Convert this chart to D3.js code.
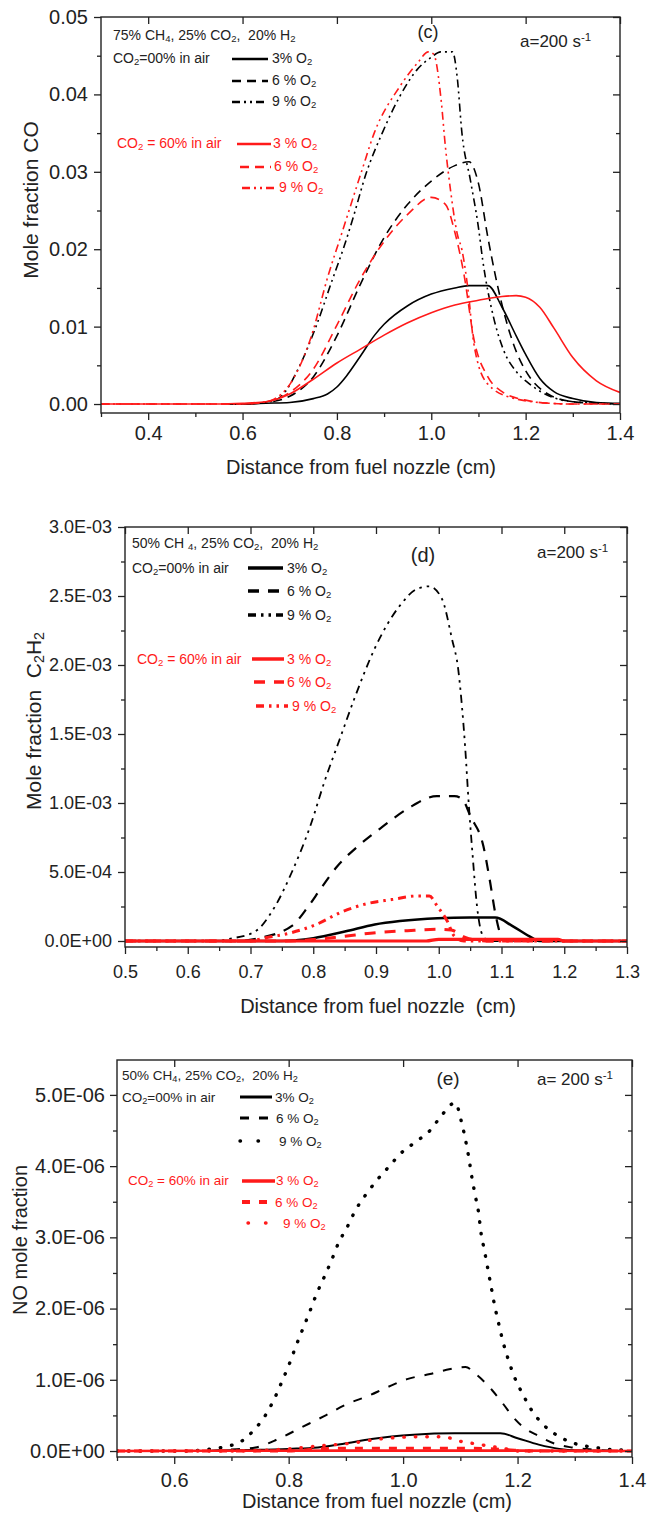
<!DOCTYPE html>
<html>
<head>
<meta charset="utf-8">
<script src="https://cdn.jsdelivr.net/npm/d3@7"></script>
<style>
  body { margin: 0; background: #fff; }
  svg { display: block; font-family: "Liberation Sans", Arial, sans-serif; }
  svg text { white-space: pre; }
</style>
</head>
<body>
<svg id="chart" width="647" height="1515"></svg>
<script>
// ---------- panel (c): CO mole fraction ----------
const coXTicks = [0.4, 0.6, 0.8, 1.0, 1.2, 1.4];
const coXMinor = [0.3, 0.5, 0.7, 0.9, 1.1, 1.3];
const coYTicks = [0, 0.01, 0.02, 0.03, 0.04, 0.05];
const coYMinor = [0.005, 0.015, 0.025, 0.035, 0.045];

const coAir3 = [[0.57,0],[0.6,0],[0.65,0.0001],[0.7,0.0002],[0.75,0.0007],[0.78,0.0013],[0.8,0.0022],[0.82,0.0036],[0.85,0.0062],[0.88,0.0089],[0.9,0.0103],[0.95,0.0127],[1.0,0.0142],[1.05,0.015],[1.08,0.0153],[1.12,0.0153],[1.15,0.0125],[1.18,0.0088],[1.2,0.0064],[1.23,0.0033],[1.26,0.0016],[1.3,0.0007],[1.35,0.0002],[1.4,0.0001]];
const coAir6 = [[0.57,0],[0.6,0],[0.65,0.0002],[0.7,0.001],[0.75,0.0035],[0.8,0.0088],[0.85,0.0155],[0.9,0.0215],[0.95,0.0258],[1.0,0.0288],[1.05,0.0308],[1.08,0.0313],[1.1,0.0285],[1.12,0.0215],[1.15,0.0128],[1.18,0.0068],[1.2,0.0043],[1.25,0.0012],[1.3,0.0003],[1.35,0.0001],[1.4,0]];
const coAir9 = [[0.57,0],[0.6,0],[0.65,0.0002],[0.68,0.0009],[0.72,0.0048],[0.755,0.0099],[0.79,0.016],[0.816,0.0205],[0.834,0.024],[0.862,0.0298],[0.896,0.035],[0.932,0.0396],[0.97,0.0432],[1.0,0.0448],[1.02,0.0455],[1.045,0.0455],[1.055,0.0422],[1.065,0.035],[1.083,0.0289],[1.1,0.0228],[1.109,0.0186],[1.132,0.0112],[1.153,0.007],[1.18,0.0042],[1.206,0.0027],[1.26,0.0008],[1.3,0.0003],[1.4,0]];
const coCo23 = [[0.3,0],[0.55,0],[0.6,0.0001],[0.65,0.0003],[0.7,0.0013],[0.75,0.0032],[0.8,0.0053],[0.85,0.0071],[0.9,0.0089],[0.95,0.0105],[1.0,0.0118],[1.05,0.0128],[1.1,0.0134],[1.15,0.0139],[1.18,0.014],[1.2,0.0138],[1.23,0.0125],[1.26,0.0098],[1.3,0.006],[1.35,0.003],[1.4,0.0015]];
const coCo26 = [[0.3,0],[0.6,0],[0.65,0.0003],[0.7,0.0015],[0.75,0.0045],[0.8,0.0102],[0.85,0.0162],[0.9,0.021],[0.95,0.0245],[1.0,0.0267],[1.03,0.0258],[1.05,0.0222],[1.07,0.0165],[1.09,0.0085],[1.12,0.0035],[1.15,0.0016],[1.2,0.0005],[1.25,0.0001],[1.3,0],[1.4,0]];
const coCo29 = [[0.3,0],[0.6,0],[0.64,0.0002],[0.662,0.0005],[0.702,0.0027],[0.745,0.0086],[0.781,0.0165],[0.81,0.022],[0.852,0.03],[0.879,0.035],[0.932,0.0409],[0.97,0.044],[0.994,0.0455],[1.005,0.0452],[1.021,0.0392],[1.03,0.0332],[1.04,0.028],[1.055,0.022],[1.065,0.0199],[1.078,0.0147],[1.09,0.0079],[1.118,0.0027],[1.171,0.0008],[1.25,0.0001],[1.3,0],[1.4,0]];

// ---------- panel (d): C2H2 mole fraction ----------
const c2XTicks = [0.5, 0.6, 0.7, 0.8, 0.9, 1.0, 1.1, 1.2, 1.3];
const c2XMinor = [0.55, 0.65, 0.75, 0.85, 0.95, 1.05, 1.15, 1.25];
const c2YTicks = [0, 0.0005, 0.001, 0.0015, 0.002, 0.0025, 0.003];
const c2YMinor = [0.00025, 0.00075, 0.00125, 0.00175, 0.00225, 0.00275];

const c2Air3 = [[0.5,0],[0.75,0],[0.8,0.00002],[0.852,0.00007],[0.898,0.00012],[0.938,0.000145],[0.998,0.000165],[1.05,0.00017],[1.09,0.00017],[1.117,0.00011],[1.144,0.000035],[1.16,0],[1.3,0]];
const c2Air6 = [[0.5,0],[0.68,0],[0.712,0.00002],[0.766,0.00011],[0.792,0.00025],[0.812,0.00038],[0.838,0.00054],[0.872,0.00069],[0.911,0.00083],[0.951,0.00096],[0.997,0.00105],[1.025,0.00105],[1.037,0.00103],[1.051,0.0009],[1.071,0.00069],[1.081,0.00045],[1.091,0.00018],[1.104,0],[1.3,0]];
const c2Air9 = [[0.5,0],[0.65,0],[0.66,0.00001],[0.706,0.000065],[0.739,0.00025],[0.766,0.0005],[0.795,0.00083],[0.819,0.00117],[0.842,0.00146],[0.865,0.00175],[0.898,0.00212],[0.938,0.00243],[0.965,0.00255],[0.985,0.00257],[1.005,0.00248],[1.021,0.00219],[1.031,0.00197],[1.037,0.0017],[1.042,0.00141],[1.048,0.00098],[1.054,0.00062],[1.061,0.00025],[1.07,0.00004],[1.08,0],[1.3,0]];
const c2Co23 = [[0.5,0],[0.98,0],[1.0,0.000012],[1.19,0.000012],[1.2,0],[1.3,0]];
const c2Co26 = [[0.5,0],[0.75,0],[0.8,0.00001],[0.85,0.000035],[0.9,0.00006],[0.95,0.000075],[1.0,0.000085],[1.02,0.00008],[1.04,0.00003],[1.06,0.000005],[1.08,0],[1.3,0]];
const c2Co29 = [[0.5,0],[0.7,0],[0.72,0.00002],[0.765,0.00006],[0.805,0.00012],[0.845,0.00021],[0.885,0.00027],[0.925,0.0003],[0.965,0.000326],[0.985,0.000326],[0.998,0.00025],[1.014,0.00014],[1.024,0.00004],[1.04,0],[1.3,0]];

// ---------- panel (e): NO mole fraction ----------
const noXTicks = [0.6, 0.8, 1.0, 1.2, 1.4];
const noXMinor = [0.5, 0.7, 0.9, 1.1, 1.3];
const noYTicks = [0, 1e-6, 2e-6, 3e-6, 4e-6, 5e-6];
const noYMinor = [0.5e-6, 1.5e-6, 2.5e-6, 3.5e-6, 4.5e-6];

const noAir3 = [[0.5,0],[0.65,0],[0.7,0.01e-6],[0.8,0.03e-6],[0.851,0.05e-6],[0.894,0.1e-6],[0.945,0.17e-6],[1.018,0.23e-6],[1.09,0.25e-6],[1.17,0.25e-6],[1.2,0.18e-6],[1.237,0.09e-6],[1.273,0.03e-6],[1.3,0.01e-6],[1.4,0]];
const noAir6 = [[0.5,0],[0.65,0],[0.698,0.02e-6],[0.742,0.05e-6],[0.782,0.17e-6],[0.822,0.33e-6],[0.862,0.49e-6],[0.902,0.66e-6],[0.938,0.77e-6],[0.971,0.89e-6],[1.007,1.01e-6],[1.047,1.08e-6],[1.076,1.14e-6],[1.109,1.18e-6],[1.127,1.08e-6],[1.156,0.85e-6],[1.175,0.66e-6],[1.193,0.47e-6],[1.211,0.33e-6],[1.237,0.21e-6],[1.266,0.1e-6],[1.295,0.05e-6],[1.331,0.02e-6],[1.382,0],[1.4,0]];
const noAir9 = [[0.5,0],[0.62,0],[0.654,0.02e-6],[0.689,0.06e-6],[0.718,0.14e-6],[0.74,0.3e-6],[0.76,0.51e-6],[0.776,0.75e-6],[0.789,0.99e-6],[0.802,1.24e-6],[0.813,1.48e-6],[0.825,1.72e-6],[0.836,1.94e-6],[0.849,2.21e-6],[0.862,2.44e-6],[0.875,2.68e-6],[0.887,2.92e-6],[0.902,3.14e-6],[0.916,3.37e-6],[0.934,3.59e-6],[0.953,3.79e-6],[0.975,3.99e-6],[0.996,4.18e-6],[1.022,4.34e-6],[1.047,4.5e-6],[1.069,4.73e-6],[1.091,4.89e-6],[1.102,4.62e-6],[1.109,4.37e-6],[1.115,4.11e-6],[1.12,3.85e-6],[1.126,3.59e-6],[1.132,3.34e-6],[1.136,3.07e-6],[1.142,2.82e-6],[1.148,2.56e-6],[1.154,2.3e-6],[1.16,2.04e-6],[1.167,1.79e-6],[1.175,1.52e-6],[1.184,1.28e-6],[1.195,1.03e-6],[1.209,0.8e-6],[1.224,0.58e-6],[1.245,0.37e-6],[1.271,0.21e-6],[1.302,0.1e-6],[1.335,0.05e-6],[1.364,0.02e-6],[1.4,0.01e-6]];
const noCo23 = [[0.5,0],[0.9,0.005e-6],[1.2,0.005e-6],[1.4,0]];
const noCo26 = [[0.5,0],[0.8,0],[0.85,0.03e-6],[0.9,0.04e-6],[1.1,0.04e-6],[1.18,0.02e-6],[1.22,0],[1.4,0]];
const noCo29 = [[0.5,0],[0.7,0],[0.8,0.03e-6],[0.851,0.07e-6],[0.909,0.11e-6],[0.96,0.17e-6],[1.03,0.2e-6],[1.07,0.2e-6],[1.098,0.14e-6],[1.127,0.1e-6],[1.18,0.03e-6],[1.2,0],[1.4,0]];

const RED = "#ff1a1a";
const INK = "#222";
const svg = d3.select("#chart");

// "_{..}" -> subscript, "^{..}" -> superscript
function richText(el, str) {
  str.split(/([_^]\{[^}]*\})/).forEach(part => {
    if (!part) return;
    if (part[0] === "_" || part[0] === "^") {
      el.append("tspan")
        .attr("font-size", "68%")
        .attr("baseline-shift", part[0] === "_" ? "-22%" : "48%")
        .text(part.slice(2, -1));
    } else {
      el.append("tspan").text(part);
    }
  });
  return el;
}

function fmtE(v) {
  if (v === 0) return "0.0E+00";
  const e = Math.floor(Math.log10(Math.abs(v)) + 1e-9);
  const m = v / Math.pow(10, e);
  return m.toFixed(1) + "E" + (e < 0 ? "-" : "+") + String(Math.abs(e)).padStart(2, "0");
}

function drawPanel(p) {
  const x = d3.scaleLinear().domain(p.xDomain).range([p.left, p.right]);
  const y = d3.scaleLinear().domain(p.yDomain).range([p.bottom, p.top]);
  const g = svg.append("g");

  const clipId = "clip-" + p.id;
  g.append("clipPath").attr("id", clipId)
    .append("rect").attr("x", p.left).attr("y", p.top)
    .attr("width", p.right - p.left).attr("height", p.bottom - p.top);

  // series
  const line = d3.line().x(d => x(d[0])).y(d => y(d[1])).curve(d3.curveMonotoneX);
  const lines = g.append("g").attr("clip-path", `url(#${clipId})`);
  p.series.forEach(s => {
    lines.append("path")
      .attr("d", line(s.data))
      .attr("fill", "none")
      .attr("stroke", s.color)
      .attr("stroke-width", s.width)
      .attr("stroke-dasharray", s.dash || null)
      .attr("stroke-linecap", s.cap || "butt")
      .attr("stroke-linejoin", "round");
  });

  // axes
  const styleAxis = (sel, fs) => {
    sel.select(".domain").remove();
    sel.selectAll("line").attr("stroke", INK).attr("stroke-width", 1.3);
    sel.selectAll("text").attr("fill", INK).attr("font-size", fs)
      .attr("font-family", '"Liberation Sans", Arial, sans-serif');
  };
  g.append("g").attr("transform", `translate(0,${p.bottom})`)
    .call(d3.axisBottom(x).tickValues(p.xTicks).tickFormat(p.xFmt).tickSize(7).tickPadding(p.xPad))
    .call(s => styleAxis(s, p.tickFont));
  g.append("g").attr("transform", `translate(0,${p.bottom})`)
    .call(d3.axisBottom(x).tickValues(p.xMinor).tickFormat("").tickSize(4))
    .call(s => styleAxis(s, p.tickFont));
  g.append("g").attr("transform", `translate(${p.left},0)`)
    .call(d3.axisLeft(y).tickValues(p.yTicks).tickFormat(p.yFmt).tickSize(7).tickPadding(p.yPad))
    .call(s => styleAxis(s, p.tickFont));
  g.append("g").attr("transform", `translate(${p.left},0)`)
    .call(d3.axisLeft(y).tickValues(p.yMinor).tickFormat("").tickSize(4))
    .call(s => styleAxis(s, p.tickFont));
  g.append("g").attr("transform", `translate(0,${p.top})`)
    .call(d3.axisTop(x).tickValues(p.xTicks).tickFormat("").tickSize(-7))
    .call(s => styleAxis(s, p.tickFont));
  g.append("g").attr("transform", `translate(${p.right},0)`)
    .call(d3.axisRight(y).tickValues(p.yTicks).tickFormat("").tickSize(-7))
    .call(s => styleAxis(s, p.tickFont));
  g.append("g").attr("transform", `translate(${p.right},0)`)
    .call(d3.axisRight(y).tickValues(p.yMinor).tickFormat("").tickSize(-4))
    .call(s => styleAxis(s, p.tickFont));

  g.append("rect")
    .attr("x", p.left).attr("y", p.top)
    .attr("width", p.right - p.left).attr("height", p.bottom - p.top)
    .attr("fill", "none").attr("stroke", INK).attr("stroke-width", 1.4);

  // axis titles
  richText(g.append("text")
    .attr("x", p.xTitle.x).attr("y", p.xTitle.y)
    .attr("text-anchor", "middle").attr("font-size", p.xTitle.size).attr("fill", INK), p.xTitle.text);
  richText(g.append("text")
    .attr("transform", `translate(${p.yTitle.x},${p.yTitle.y}) rotate(-90)`)
    .attr("text-anchor", "middle").attr("font-size", p.yTitle.size).attr("fill", INK), p.yTitle.text);

  // free texts
  p.texts.forEach(t => {
    richText(g.append("text")
      .attr("x", t.x).attr("y", t.y)
      .attr("text-anchor", t.anchor || "start")
      .attr("font-size", t.size)
      .attr("fill", t.color || INK), t.text);
  });

  // legend samples
  p.legend.forEach(l => {
    const s = p.series[l.series];
    g.append("line")
      .attr("x1", l.x1).attr("x2", l.x2).attr("y1", l.y).attr("y2", l.y)
      .attr("stroke", s.color)
      .attr("stroke-width", l.width || s.width + 1)
      .attr("stroke-dasharray", l.dash || s.dash || null)
      .attr("stroke-linecap", s.cap || "butt");
    richText(g.append("text")
      .attr("x", l.tx).attr("y", l.ty)
      .attr("font-size", p.legendFont)
      .attr("fill", s.color === RED ? RED : INK), l.label);
  });
}

// panel (c)
drawPanel({
  id: "c", left: 101, right: 620, top: 17, bottom: 413,
  xDomain: [0.3, 1.4], yDomain: [-0.00116, 0.05],
  xTicks: coXTicks, xMinor: coXMinor, yTicks: coYTicks, yMinor: coYMinor,
  xFmt: d3.format(".1f"), yFmt: d3.format(".2f"),
  tickFont: 20, xPad: 6, yPad: 6, legendFont: 14,
  series: [
    { data: coAir3, color: "#000", width: 1.6 },
    { data: coAir6, color: "#000", width: 1.6, dash: "9,6" },
    { data: coAir9, color: "#000", width: 1.6, dash: "8,4,2,4,2,4" },
    { data: coCo23, color: RED, width: 1.6 },
    { data: coCo26, color: RED, width: 1.6, dash: "9,6" },
    { data: coCo29, color: RED, width: 1.6, dash: "8,4,2,4,2,4" }
  ],
  xTitle: { x: 361, y: 474, size: 20, text: "Distance from fuel nozzle (cm)" },
  yTitle: { x: 38, y: 200, size: 21, text: "Mole fraction CO" },
  texts: [
    { x: 113, y: 40, size: 14, text: "75% CH_{4}, 25% CO_{2},  20% H_{2}" },
    { x: 113, y: 63, size: 14, text: "CO_{2}=00% in air" },
    { x: 117, y: 148, size: 14, text: "CO_{2} = 60% in air", color: RED },
    { x: 428, y: 38, size: 18, anchor: "middle", text: "(c)" },
    { x: 520, y: 47, size: 17, text: "a=200 s^{-1}" }
  ],
  legend: [
    { series: 0, x1: 232, x2: 268, y: 59, tx: 272, ty: 63, label: "3% O_{2}" },
    { series: 1, x1: 232, x2: 268, y: 81, tx: 272, ty: 85, label: "6 % O_{2}" },
    { series: 2, x1: 232, x2: 268, y: 102, tx: 272, ty: 106, label: "9 % O_{2}" },
    { series: 3, x1: 237, x2: 271, y: 144, tx: 273, ty: 148, label: "3 % O_{2}" },
    { series: 4, x1: 240, x2: 271, y: 167, tx: 274, ty: 171, label: "6 % O_{2}" },
    { series: 5, x1: 242, x2: 275, y: 188, tx: 279, ty: 192, label: "9 % O_{2}" }
  ]
});

// panel (d)
drawPanel({
  id: "d", left: 125, right: 627, top: 527, bottom: 947,
  xDomain: [0.5, 1.3], yDomain: [-0.0000435, 0.003],
  xTicks: c2XTicks, xMinor: c2XMinor, yTicks: c2YTicks, yMinor: c2YMinor,
  xFmt: d3.format(".1f"), yFmt: fmtE,
  tickFont: 18, xPad: 11, yPad: 6, legendFont: 14,
  series: [
    { data: c2Air3, color: "#000", width: 2.6 },
    { data: c2Air6, color: "#000", width: 2.2, dash: "11,9" },
    { data: c2Air9, color: "#000", width: 1.8, dash: "8,5,2.5,5,2.5,5" },
    { data: c2Co23, color: RED, width: 3.2 },
    { data: c2Co26, color: RED, width: 3, dash: "11,9" },
    { data: c2Co29, color: RED, width: 3, dash: "8,5,2.5,5,2.5,5" }
  ],
  xTitle: { x: 378, y: 1013, size: 20, text: "Distance from fuel nozzle  (cm)" },
  yTitle: { x: 41, y: 721, size: 21, text: "Mole fraction  C_{2}H_{2}" },
  texts: [
    { x: 132, y: 548, size: 14, text: "50% CH _{4}, 25% CO_{2},  20% H_{2}" },
    { x: 132, y: 573, size: 14, text: "CO_{2}=00% in air" },
    { x: 137, y: 664, size: 14, text: "CO_{2} = 60% in air", color: RED },
    { x: 423, y: 562, size: 20, anchor: "middle", text: "(d)" },
    { x: 537, y: 558, size: 17, text: "a=200 s^{-1}" }
  ],
  legend: [
    { series: 0, x1: 248, x2: 283, y: 568, tx: 287, ty: 573, label: "3% O_{2}", width: 3.5 },
    { series: 1, x1: 248, x2: 283, y: 591, tx: 287, ty: 596, label: "6 % O_{2}", width: 3.5 },
    { series: 2, x1: 248, x2: 283, y: 615, tx: 287, ty: 620, label: "9 % O_{2}", width: 3.5 },
    { series: 3, x1: 252, x2: 284, y: 659, tx: 287, ty: 664, label: "3 % O_{2}", width: 3.5 },
    { series: 4, x1: 254, x2: 284, y: 682, tx: 287, ty: 687, label: "6 % O_{2}", width: 3.5 },
    { series: 5, x1: 256, x2: 288, y: 706, tx: 292, ty: 711, label: "9 % O_{2}", width: 3.5 }
  ]
});

// panel (e)
drawPanel({
  id: "e", left: 117, right: 632, top: 1060, bottom: 1457,
  xDomain: [0.5, 1.4], yDomain: [-0.084e-6, 5.49e-6],
  xTicks: noXTicks, xMinor: noXMinor, yTicks: noYTicks, yMinor: noYMinor,
  xFmt: d3.format(".1f"), yFmt: fmtE,
  tickFont: 20, xPad: 9, yPad: 5, legendFont: 13.5,
  series: [
    { data: noAir3, color: "#000", width: 2 },
    { data: noAir6, color: "#000", width: 2, dash: "9,10" },
    { data: noAir9, color: "#000", width: 3.4, dash: "0.5,11", cap: "round" },
    { data: noCo23, color: RED, width: 2.6 },
    { data: noCo26, color: RED, width: 3, dash: "8,9" },
    { data: noCo29, color: RED, width: 3.4, dash: "0.5,11", cap: "round" }
  ],
  xTitle: { x: 377, y: 1508, size: 20, text: "Distance from fuel nozzle (cm)" },
  yTitle: { x: 27, y: 1240, size: 20, text: "NO mole fraction" },
  texts: [
    { x: 122, y: 1080, size: 13.5, text: "50% CH_{4}, 25% CO_{2},  20% H_{2}" },
    { x: 122, y: 1102, size: 13.5, text: "CO_{2}=00% in air" },
    { x: 128, y: 1185, size: 13.5, text: "CO_{2} = 60% in air", color: RED },
    { x: 448, y: 1085, size: 19, anchor: "middle", text: "(e)" },
    { x: 537, y: 1085, size: 17, text: "a= 200 s^{-1}" }
  ],
  legend: [
    { series: 0, x1: 240, x2: 272, y: 1097, tx: 275, ty: 1102, label: "3% O_{2}" },
    { series: 1, x1: 240, x2: 272, y: 1118, tx: 276, ty: 1123, label: "6 % O_{2}" },
    { series: 2, x1: 240, x2: 262, y: 1141, tx: 279, ty: 1146, label: "9 % O_{2}", dash: "0.5,17.5", width: 3.4 },
    { series: 3, x1: 242, x2: 275, y: 1181, tx: 276, ty: 1185, label: "3 % O_{2}" },
    { series: 4, x1: 242, x2: 272, y: 1202, tx: 275, ty: 1207, label: "6 % O_{2}" },
    { series: 5, x1: 248, x2: 268, y: 1223, tx: 283, ty: 1228, label: "9 % O_{2}", dash: "0.5,17", width: 3.4 }
  ]
});
</script>
</body>
</html>
